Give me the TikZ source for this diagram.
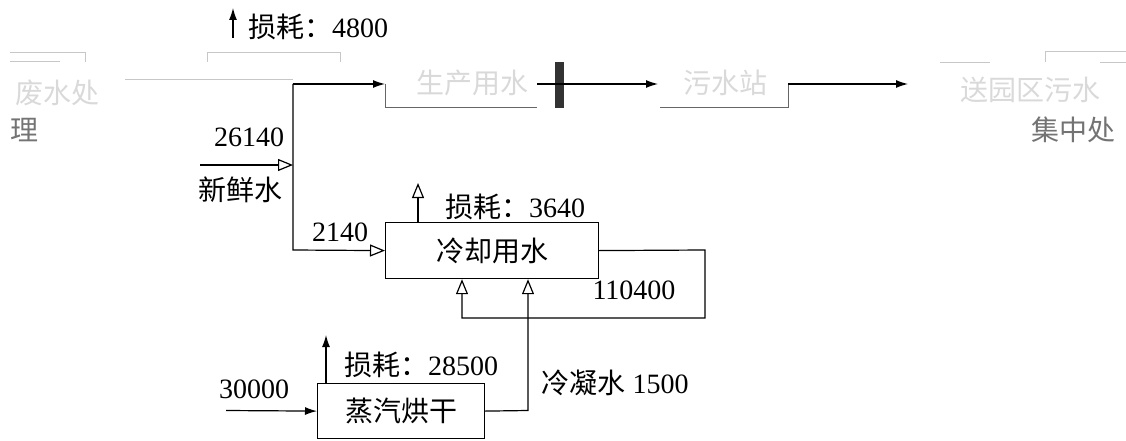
\documentclass[tikz,border=0pt]{standalone}
\usepackage{fontspec}
\setmainfont{Liberation Serif}
\newfontfamily\cjk{Noto Sans CJK SC}
\usetikzlibrary{arrows.meta}
\begin{document}
\begin{tikzpicture}[x=1pt,y=1pt,
  box/.style={draw,line width=1.2pt,inner sep=0pt,font=\fontsize{28}{30}\selectfont\cjk},
  lbl/.style={inner sep=0pt,font=\fontsize{28}{30}\selectfont},
  flow/.style={line width=1.2pt},
  fa/.style={-{Latex[length=12pt,width=8pt]}},
  oa/.style={-{Triangle[open,length=15pt,width=12pt]}},
  faint/.style={draw=black!22,line width=1pt},
  fainttxt/.style={inner sep=0pt,text=black!15,font=\fontsize{28}{30}\selectfont\cjk}]
\useasboundingbox (0,0) rectangle (1126,-441);

% main boxes
\node[box,minimum width=213pt,minimum height=56pt,anchor=north west] (cool) at (385,-222) {冷却用水};
\node[box,minimum width=167pt,minimum height=55pt,anchor=north west] (steam) at (317,-383) {蒸汽烘干};

% top row (faded)
\node[fainttxt] (lefta) at (57,-93) {废水处};
\node[fainttxt,text=black!55] (leftb) at (24,-130) {理};
\node[fainttxt] (mid2) at (472,-83) {生产用水};
\node[fainttxt] (mid3) at (725,-83) {污水站};
\node[fainttxt] (righta) at (1030,-90) {送园区污水};
\node[fainttxt,text=black!55] (rightb) at (1073,-130) {集中处};
\draw[faint] (10,-53) -- (85,-53) -- (85,-62);
\draw[faint] (10,-62) -- (60,-62);
\draw[faint] (207,-62) -- (207,-53) -- (340,-53) -- (340,-62);
\draw[faint] (1126,-52) -- (1045,-52) -- (1045,-62);
\draw[faint] (940,-63) -- (990,-63);
\draw[faint] (1100,-63) -- (1126,-63);
\coordinate (fl0) at (125,-80);
\coordinate (fl1) at (293,-80);
\draw[faint] (fl0) -- (fl1);

% loss 4800
\coordinate (l1a) at (233,-38);
\coordinate (l1b) at (233,-8);
\draw[flow,fa] (l1a) -- (l1b);
\node[lbl] (loss1) at (318,-27) {{\cjk 损耗：}4800};

% fresh water feed
\coordinate (top) at (293,-84);
\coordinate (b2w) at (385,-84);
\coordinate (bot) at (293,-250);
\draw[flow,fa] (top) -- (b2w);
\draw[flow,oa] (top) -- (bot) -- (cool.west);
\node[lbl] (n26140) at (249,-137) {26140};
\node[lbl] (n2140) at (340,-232) {2140};
\coordinate (fw0) at (200,-165);
\coordinate (fw1) at (293,-165);
\draw[flow,oa] (fw0) -- (fw1);
\node[lbl,font=\fontsize{28}{30}\selectfont\cjk] (fresh) at (240,-190) {新鲜水};

% box 2 / box 3 remnants
\coordinate (b2a) at (385,-108);
\coordinate (b2b) at (537,-108);
\draw[line width=1pt,black!60] (b2w) -- (b2a) -- (b2b);
\fill[black!80] (555,-62) rectangle (564,-108);
\coordinate (a2s) at (537,-84);
\coordinate (a2e) at (658,-84);
\draw[flow,fa] (a2s) -- (a2e);
\coordinate (b3a) at (660,-108);
\coordinate (b3b) at (788,-108);
\coordinate (b3c) at (788,-84);
\draw[line width=1pt,black!60] (b3a) -- (b3b) -- (b3c);
\coordinate (a3e) at (908,-84);
\draw[flow,fa] (b3c) -- (a3e);

% cooling loss
\coordinate (c1) at ([xshift=33pt]cool.north west);
\coordinate (c2) at (418,-183);
\draw[flow,oa] (c1) -- (c2);
\node[lbl] (loss2) at (515,-207) {{\cjk 损耗：}3640};

% recirculation loop
\coordinate (r1) at (705,-250);
\coordinate (r2) at (705,-318);
\coordinate (r3) at (462,-318);
\draw[flow,oa] (cool.east) -- (r1) -- (r2) -- (r3) -- (r3 |- cool.south);
\node[lbl] (n110400) at (634,-290) {110400};

% condensate
\coordinate (k1) at (528,-410.5);
\draw[flow,oa] (steam.east) -- (k1) -- (k1 |- cool.south);
\node[lbl] (cond) at (615,-383) {{\cjk 冷凝水} 1500};

% steam in
\coordinate (s0) at (226,-410.5);
\draw[flow,fa] (s0) -- (steam.west);
\node[lbl] (n30000) at (254,-389) {30000};

% steam loss
\coordinate (s1) at (326,-383);
\coordinate (s2) at (326,-335);
\draw[flow,fa] (s1) -- (s2);
\node[lbl] (loss3) at (421,-365) {{\cjk 损耗：}28500};
\end{tikzpicture}
\end{document}
